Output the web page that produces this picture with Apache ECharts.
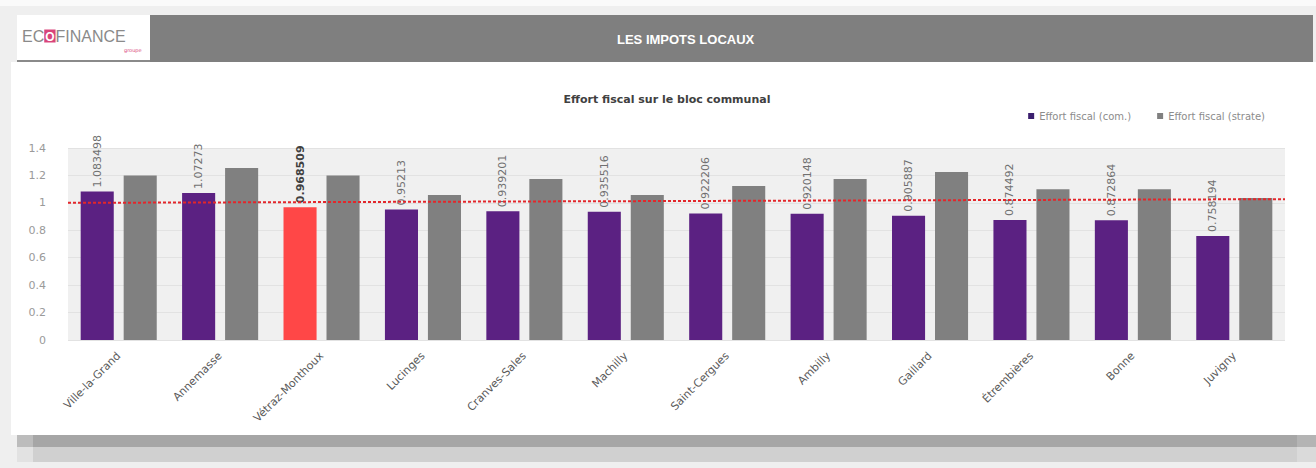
<!DOCTYPE html>
<html>
<head>
<meta charset="utf-8">
<script src="https://cdn.jsdelivr.net/npm/echarts@6/dist/echarts.min.js"></script>
<style>
html,body{margin:0;padding:0;background:#efefef;}
#chart{width:1316px;height:468px;}
</style>
</head>
<body>
<div id="chart"></div>
<script>
var categories = ['Ville-la-Grand','Annemasse','Vétraz-Monthoux','Lucinges','Cranves-Sales','Machilly','Saint-Cergues','Ambilly','Gaillard','Étrembières','Bonne','Juvigny'];
var effortCom = [1.083498,1.07273,0.968509,0.95213,0.939201,0.935516,0.922206,0.920148,0.905887,0.874492,0.872864,0.758194];
var effortStrate = [1.20,1.255,1.20,1.058,1.174,1.058,1.123,1.174,1.225,1.10,1.10,1.036];
var refLine = [1.0, 1.027];
var highlight = 'Vétraz-Monthoux';
var yTicks = [0,0.2,0.4,0.6,0.8,1,1.2,1.4];

var FONT = 'DejaVu Sans';
var chart = echarts.init(document.getElementById('chart'), null, {renderer:'svg'});

var comData = effortCom.map(function(v,i){
  if (categories[i] === highlight) {
    return {value:v, itemStyle:{color:'#ff4747'}, label:{fontWeight:'bold', color:'#404040'}};
  }
  return v;
});

var option = {
  backgroundColor:'#efefef',
  animation:false,
  textStyle:{fontFamily:FONT},
  graphic:[
    {type:'rect', shape:{x:0,y:0,width:1316,height:6}, style:{fill:'#fafafa'}, silent:true},
    {type:'rect', shape:{x:11,y:62,width:1305,height:373}, style:{fill:'#ffffff'}, silent:true, z:-10},
    {type:'rect', shape:{x:148,y:15,width:1165,height:47}, style:{fill:'#7f7f7f'}, silent:true},
    {type:'rect', shape:{x:17,y:15,width:133,height:46}, style:{fill:'#ffffff'}, silent:true},
    {type:'rect', shape:{x:17,y:60,width:133,height:2}, style:{fill:'#8a8a8a'}, silent:true},
    {type:'text', left:22, top:28, style:{
      text:'{a|EC}{b|O}{a|FINANCE}',
      rich:{
        a:{fontFamily:'Liberation Sans', fontSize:16, fill:'#8a8a8a', color:'#8a8a8a'},
        b:{fontFamily:'Liberation Sans', fontSize:12, fontWeight:'bold', fill:'#ffffff', color:'#ffffff', backgroundColor:'#d8457a', padding:[1,1,0,1]}
      }
    }},
    {type:'text', left:124, top:47, style:{text:'groupe', fontSize:5, fill:'#d8457a', fontFamily:FONT}},
    {type:'text', left:617, top:33, style:{text:'LES IMPOTS LOCAUX', fontFamily:'Liberation Sans', fontSize:13, fontWeight:'bold', fill:'#ffffff'}},
    {type:'rect', shape:{x:17,y:435,width:16,height:12}, style:{fill:'#bcbcbc'}, silent:true},
    {type:'rect', shape:{x:33,y:435,width:1264,height:12}, style:{fill:'#a6a6a6'}, silent:true},
    {type:'rect', shape:{x:17,y:447,width:16,height:15}, style:{fill:'#e2e2e2'}, silent:true},
    {type:'rect', shape:{x:33,y:447,width:1264,height:15}, style:{fill:'#d0d0d0'}, silent:true},
    {type:'rect', shape:{x:1297,y:435,width:19,height:12}, style:{fill:'#b4b4b4'}, silent:true},
    {type:'rect', shape:{x:1297,y:447,width:19,height:15}, style:{fill:'#dadada'}, silent:true}
  ],
  title:{
    text:'Effort fiscal sur le bloc communal',
    left:662, textAlign:'center', top:89,
    textStyle:{fontFamily:FONT, fontSize:11, fontWeight:'bold', color:'#404040'}
  },
  legend:{
    right:46, top:106,
    itemWidth:6, itemHeight:6, itemGap:26,
    icon:'rect',
    textStyle:{fontFamily:FONT, fontSize:10, color:'#8c8c8c'},
    data:[
      {name:'Effort fiscal (com.)', itemStyle:{color:'#3b1f6e'}},
      {name:'Effort fiscal (strate)', itemStyle:{color:'#808080'}}
    ]
  },
  grid:{left:68, right:31, top:148, bottom:128, show:true, backgroundColor:'#f0f0f0', borderWidth:0},
  xAxis:[
    {
      type:'category', data:categories,
      axisLine:{show:false}, axisTick:{show:false},
      axisLabel:{rotate:45, fontFamily:FONT, fontSize:11, color:'#5a5a5a', margin:14, interval:0}
    },
    {type:'value', min:0, max:1, show:false}
  ],
  yAxis:{
    type:'value', min:yTicks[0], max:yTicks[yTicks.length-1], interval:0.2,
    axisLine:{show:false}, axisTick:{show:false},
    axisLabel:{fontFamily:FONT, fontSize:11, color:'#9a9a9a', margin:22},
    splitLine:{lineStyle:{color:'#e2e2e2', width:1}}
  },
  series:[
    {
      name:'Effort fiscal (com.)', type:'bar', data:comData,
      barGap:'30%', barCategoryGap:'25%',
      itemStyle:{color:'#5b2182'},
      label:{show:true, position:'top', rotate:90, align:'left', verticalAlign:'middle', distance:4,
        fontFamily:FONT, fontSize:11, color:'#707070',
        formatter:function(p){return String(p.value);}}
    },
    {
      name:'Effort fiscal (strate)', type:'bar', data:effortStrate,
      itemStyle:{color:'#808080'}
    },
    {
      name:'ref', type:'line', xAxisIndex:1, symbol:'none', silent:true,
      data:refLine.map(function(v,i){return [i/(refLine.length-1), v];}),
      lineStyle:{color:'#e3262a', width:2, type:[3,2]}, z:5
    }
  ]
};
chart.setOption(option);
</script>
</body>
</html>
